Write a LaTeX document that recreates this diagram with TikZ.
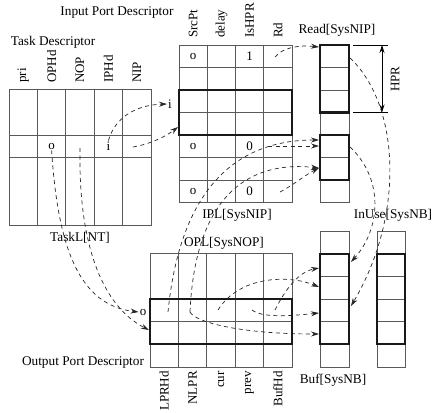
\documentclass[tikz,border=0pt]{standalone}
\usepackage{fontspec}
\setmainfont{Liberation Serif}
\usetikzlibrary{arrows.meta, positioning}
\tikzset{
    tabline/.style = {draw=black!65, line width=0.7pt},
    boldbox/.style = {draw=black!90, line width=2.6pt},
    dimline/.style = {draw=black, line width=0.7pt},
    ptr/.style = {draw=black!85, line width=0.7pt, dash pattern=on 4pt off 3.5pt,
                  -{Stealth[length=8pt,width=5pt]}},
    val/.style = {inner sep=1pt, font=\fontsize{13}{15}\selectfont},
    hdr/.style = {rotate=90, inner sep=0pt, font=\fontsize{13}{15}\selectfont},
    title/.style = {inner sep=0pt, font=\fontsize{13.3}{16}\selectfont},
}

\begin{document}
\begin{tikzpicture}[x=1pt, y=-1pt]
\useasboundingbox (0,0) rectangle (433,412);

% Task descriptor table
\draw[tabline] (9,89) rectangle (151,225);
\draw[tabline] (37.4,89) -- (37.4,225) (65.8,89) -- (65.8,225) (94.2,89) -- (94.2,225) (122.6,89) -- (122.6,225);
\draw[tabline] (9,135) -- (151,135) (9,157) -- (151,157);

% Input port table and Read array
\draw[tabline] (179,45) rectangle (292,202.5);
\draw[tabline] (207.25,45) -- (207.25,202.5) (235.5,45) -- (235.5,202.5) (263.75,45) -- (263.75,202.5);
\draw[tabline] (179,67.5) -- (292,67.5) (179,90) -- (292,90) (179,112.5) -- (292,112.5)
               (179,135) -- (292,135) (179,157.5) -- (292,157.5) (179,180) -- (292,180);
\draw[tabline] (320,45) rectangle (349,202.5);
\draw[tabline] (320,67.5) -- (349,67.5) (320,90) -- (349,90) (320,112.5) -- (349,112.5)
               (320,135) -- (349,135) (320,157.5) -- (349,157.5) (320,180) -- (349,180);
\draw[boldbox] (179,90) rectangle (292,135);
\draw[boldbox] (320,45) rectangle (349,112.5) (320,135) rectangle (349,180);

% Output port table, Buf and InUse arrays
\draw[tabline] (150,253) rectangle (292,367);
\draw[tabline] (178.4,253) -- (178.4,367) (206.8,253) -- (206.8,367) (235.2,253) -- (235.2,367) (263.6,253) -- (263.6,367);
\draw[tabline] (150,299) -- (292,299) (150,321.5) -- (292,321.5) (150,344) -- (292,344);
\draw[tabline] (320,231.5) rectangle (349,367) (377,231.5) rectangle (405,367);
\draw[tabline] (320,254) -- (349,254) (320,276.5) -- (349,276.5) (320,299) -- (349,299)
               (320,321.5) -- (349,321.5) (320,344) -- (349,344);
\draw[tabline] (377,254) -- (405,254) (377,276.5) -- (405,276.5) (377,299) -- (405,299)
               (377,321.5) -- (405,321.5) (377,344) -- (405,344);
\draw[boldbox] (150,299) rectangle (292,344);
\draw[boldbox] (320,254) rectangle (349,344) (377,254) rectangle (405,344);

% HPR span
\draw[dimline] (353,45) -- (388,45) (353,112.5) -- (388,112.5);
\draw[dimline, {Stealth[length=8pt,width=5pt]}-{Stealth[length=8pt,width=5pt]}] (382,45) -- (382,112.5);
\node[hdr] (hpr) at (395,79) {HPR};

% Titles
\node[title] (taskT) at (53,42) {Task Descriptor};
\node[title] (inT) at (117,13) {Input Port Descriptor};
\node[title] (outT) at (83,363) {Output Port Descriptor};
\node[title] (taskL) at (80,238) {TaskL[NT]};
\node[title] (ipl) at (237,215) {IPL[SysNIP]};
\node[title] (opl) at (224,243) {OPL[SysNOP]};
\node[title] (readL) at (337,30) {Read[SysNIP]};
\node[title] (inuseL) at (393,215) {InUse[SysNB]};
\node[title] (bufL) at (333,380) {Buf[SysNB]};

% Field names
\node[hdr, anchor=west] (hPri) at (23.2,83) {pri};
\node[hdr, anchor=west] (hOPHd) at (51.6,83) {OPHd};
\node[hdr, anchor=west] (hNOP) at (80,83) {NOP};
\node[hdr, anchor=west] (hIPHd) at (108.4,83) {IPHd};
\node[hdr, anchor=west] (hNIP) at (136.8,83) {NIP};
\node[hdr, anchor=west] (hSrc) at (193.1,38) {SrcPt};
\node[hdr, anchor=west] (hDelay) at (221.4,38) {delay};
\node[hdr, anchor=west] (hIsHPR) at (249.6,38) {IsHPR};
\node[hdr, anchor=west] (hRd) at (277.9,38) {Rd};
\node[hdr, anchor=east] (hLPRHd) at (164.2,371) {LPRHd};
\node[hdr, anchor=east] (hNLPR) at (192.6,371) {NLPR};
\node[hdr, anchor=east] (hCur) at (221,371) {cur};
\node[hdr, anchor=east] (hPrev) at (249.4,371) {prev};
\node[hdr, anchor=east] (hBufHd) at (277.8,371) {BufHd};

% Cell values
\node[val] (tO) at (51.6,146) {o};
\node[val] (tI) at (108.4,146) {i};
\node[val] (iO1) at (193.1,56.25) {o};
\node[val] (iH1) at (249.6,56.25) {1};
\node[val] (iO5) at (193.1,146.25) {o};
\node[val] (iH5) at (249.6,146.25) {0};
\node[val] (iO7) at (193.1,191.25) {o};
\node[val] (iH7) at (249.6,191.25) {0};
\node[val] (inI) at (170,104) {i};
\node[val] (outO) at (143,312) {o};

% Pointer ends
\coordinate (tNOP) at (80,148);
\coordinate (tNIP) at (133,147);
\coordinate (iBoldW) at (178,127);
\coordinate (iRd1) at (275,57);
\coordinate (iRd5) at (268,146);
\coordinate (iRd7) at (280,192);
\coordinate (oBoldW) at (149,330);
\coordinate (oLPR) at (168,312);
\coordinate (oNLPR) at (190,312);
\coordinate (oCur) at (218,310);
\coordinate (oPrev) at (252,310);
\coordinate (oBufHd) at (275,310);
\coordinate (rTop) at (319,47);
\coordinate (rTopE) at (350,58);
\coordinate (rMidA) at (319,140);
\coordinate (rMidB) at (319,146);
\coordinate (rMidC) at (319,168);
\coordinate (rMidE) at (350,147);
\coordinate (bufA) at (319,268);
\coordinate (bufB) at (319,287);
\coordinate (bufC) at (319,313);
\coordinate (bufD) at (319,334);
\coordinate (bufE1) at (351,262);
\coordinate (bufE2) at (351,306);

% Arrows
\draw[ptr] (tI.north) .. controls (115,118) and (135,105) .. (inI.west);
\draw[ptr] (tNIP) .. controls (150,144) and (165,137) .. (iBoldW);
\draw[ptr] (tO.south) .. controls (58,250) and (80,305) .. (outO.west);
\draw[ptr] (tNOP) .. controls (78,260) and (110,310) .. (oBoldW);
\draw[ptr] (iRd1) .. controls (283,47) and (300,45) .. (rTop);
\draw[ptr] (iRd5) -- (rMidB);
\draw[ptr] (oLPR) .. controls (180,190) and (235,140) .. (rMidA);
\draw[ptr] (oNLPR) .. controls (195,200) and (245,160) .. (rMidC);
\draw[ptr] (iRd7) .. controls (295,184) and (305,175) .. (rMidC);
\draw[ptr] (oNLPR) .. controls (195,322) and (240,334) .. (bufD);
\draw[ptr] (oCur) .. controls (240,275) and (290,275) .. (bufB);
\draw[ptr] (oPrev) .. controls (262,318) and (290,316) .. (bufC);
\draw[ptr] (oBufHd) .. controls (285,290) and (298,272) .. (bufA);
\draw[ptr] (rTopE) .. controls (400,105) and (405,215) .. (bufE2);
\draw[ptr] (rMidE) .. controls (385,180) and (380,230) .. (bufE1);
\end{tikzpicture}
\end{document}
